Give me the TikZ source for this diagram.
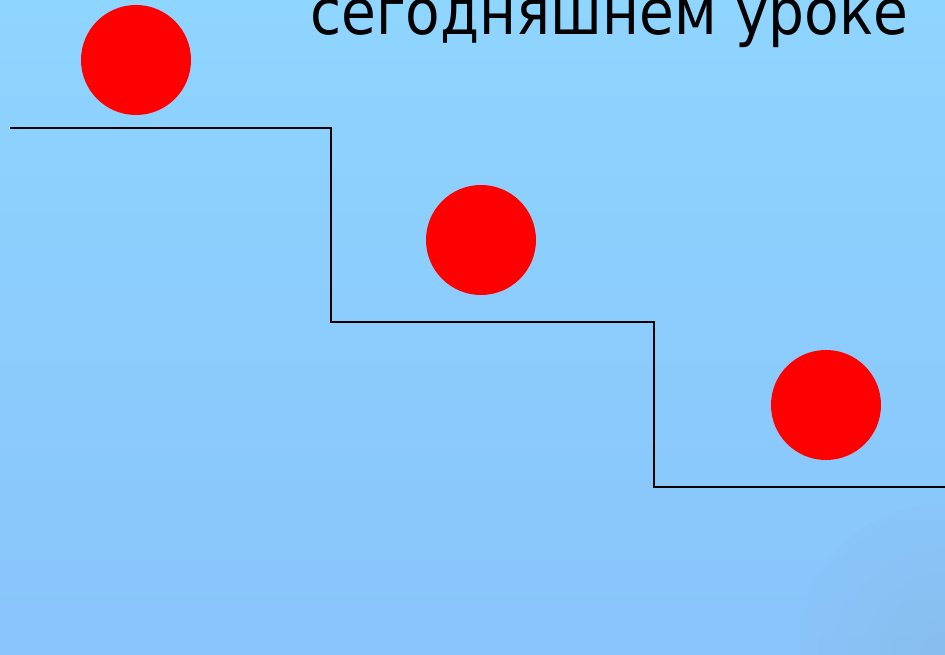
\documentclass[tikz,border=0pt]{standalone}
\usepackage{fontspec}
\usepackage{graphicx}
\newfontfamily\titlefont{DejaVu Sans}
\definecolor{bgtop}{RGB}{142,213,255}
\definecolor{bgbot}{RGB}{137,196,250}
\definecolor{bgcorner}{RGB}{136,186,230}
\definecolor{ballred}{RGB}{255,0,0}
\tikzset{
  ball/.style={circle, fill=ballred, minimum size=110pt, inner sep=0pt},
  stair/.style={line width=1.9pt, black},
}
\begin{document}
\begin{tikzpicture}[x=1pt,y=1pt]
\useasboundingbox (0,0) rectangle (945,654);
\clip (0,0) rectangle (945,654);
\shade[top color=bgtop, bottom color=bgbot] (0,0) rectangle (945,654);
\shade[inner color=bgcorner, outer color=bgbot, opacity=0.6] (945,0) circle (150);
\node[anchor=base west, inner sep=0pt] (title) at (310,619)
  {\resizebox{598pt}{!}{\scalebox{1}[1.12]{\titlefont\fontsize{60}{70}\selectfont сегодняшнем уроке}}};
\node[ball] (b1) at (136,594) {};
\node[ball] (b2) at (481,414) {};
\node[ball] (b3) at (826,249) {};
\coordinate (s0) at (10,526);
\coordinate (s1) at (331,526);
\coordinate (s2) at (331,332);
\coordinate (s3) at (654,332);
\coordinate (s4) at (654,167);
\coordinate (s5) at (945,167);
\draw[stair] (s0) -- (s1) -- (s2) -- (s3) -- (s4) -- (s5);
\end{tikzpicture}
\end{document}
